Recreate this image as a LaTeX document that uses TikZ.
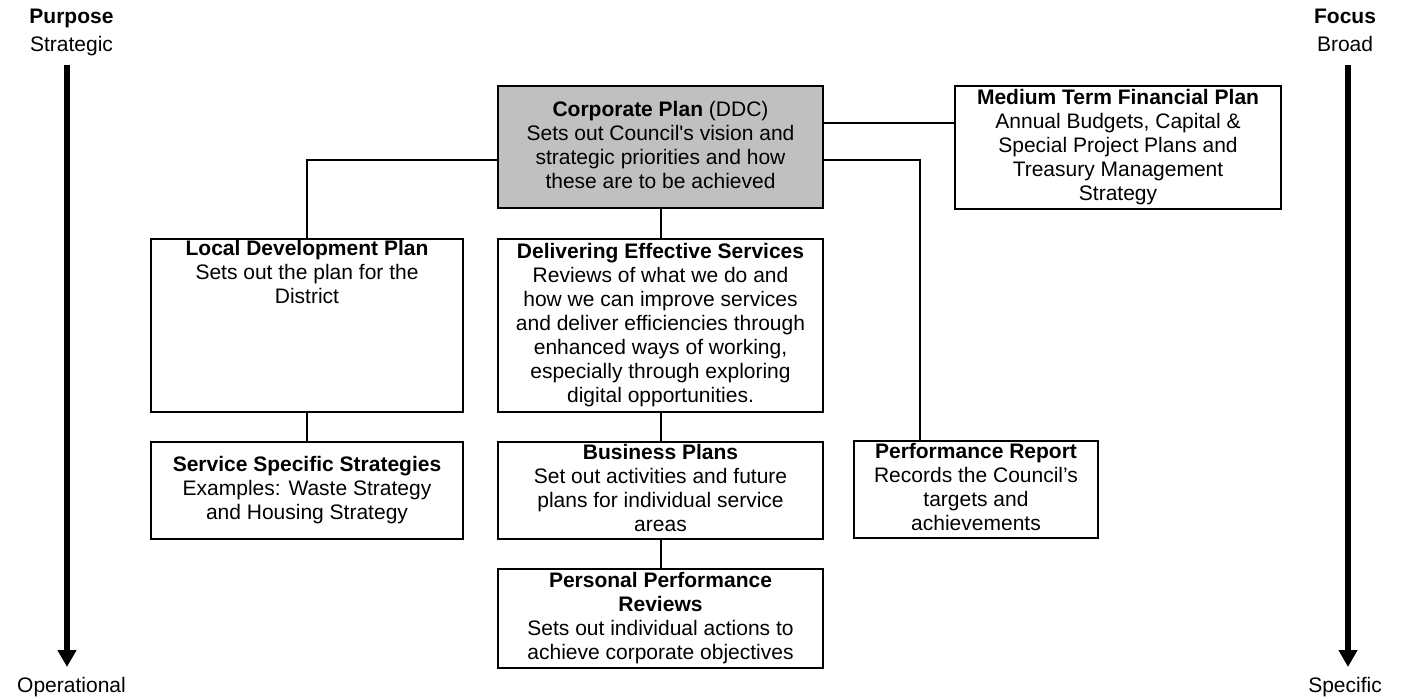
\documentclass[tikz,border=0pt]{standalone}
\usepackage{fontspec}
\setmainfont{Liberation Sans}
\usetikzlibrary{arrows.meta}
\definecolor{cpgray}{RGB}{192,192,192}
\newcommand{\mytopstrut}{\rule{0pt}{19pt}}
\newcommand{\mybotstrut}{\rule[-5pt]{0pt}{5pt}}
\begin{document}
\begin{tikzpicture}[x=1pt,y=-1pt,
  boxst/.style={draw=black, line width=2pt, fill=white, inner sep=0pt, align=center,
    font=\fontsize{21}{24}\selectfont, execute at begin node=\mytopstrut, execute at end node=\mybotstrut},
  txtst/.style={inner sep=0pt, align=center,
    font=\fontsize{21}{24}\selectfont, execute at begin node=\mytopstrut, execute at end node=\mybotstrut},
  lblst/.style={inner sep=0pt, font=\fontsize{21}{24}\selectfont},
  linkst/.style={draw=black, line width=2pt},
  bigarrow/.style={draw=black, line width=6pt, -{Triangle[width=18pt,length=17pt]}}]
\useasboundingbox (0,0) rectangle (1404,698);

% side labels and arrows
\node[lblst, anchor=base] (purpose) at (71.5,24) {\textbf{Purpose}};
\node[lblst, anchor=base] (strategic) at (71.5,52) {Strategic};
\node[lblst, anchor=base] (operational) at (71.5,692) {Operational};
\node[lblst, anchor=base] (focus) at (1345,24) {\textbf{Focus}};
\node[lblst, anchor=base] (broad) at (1345,52) {Broad};
\node[lblst, anchor=base] (specific) at (1345,692) {Specific};
\coordinate (la-s) at (67,65);
\coordinate (la-e) at (67,667);
\coordinate (ra-s) at (1348,65);
\coordinate (ra-e) at (1348,667);
\draw[bigarrow] (la-s) -- (la-e);
\draw[bigarrow] (ra-s) -- (ra-e);

% boxes
\node[boxst, fill=cpgray, minimum width=325pt, minimum height=122pt] (cp) at (660.5,147)
  {\textbf{Corporate Plan} (DDC)\\Sets out Council\textquotesingle s vision and\\strategic priorities and how\\these are to be achieved};
\node[boxst, minimum width=326pt, minimum height=123pt] (mtfp) at (1118,147.5)
  {\textbf{Medium Term Financial Plan}\\Annual Budgets, Capital \&\\Special Project Plans and\\Treasury Management\\Strategy};
\node[boxst, minimum width=312pt, minimum height=173pt] (ldp) at (307,325.5) {};
\node[txtst, anchor=north] (ldp-t) at ([yshift=-2.5pt]ldp.north)
  {\textbf{Local Development Plan}\\Sets out the plan for the\\District};
\node[boxst, minimum width=325pt, minimum height=173pt] (des) at (660.5,325.5)
  {\textbf{Delivering Effective Services}\\Reviews of what we do and\\how we can improve services\\and deliver efficiencies through\\enhanced ways of working,\\especially through exploring\\digital opportunities.};
\node[boxst, minimum width=312pt, minimum height=97pt] (sss) at (307,490.5)
  {\textbf{Service Specific Strategies}\\Examples: Waste Strategy\\and Housing Strategy};
\node[boxst, minimum width=325pt, minimum height=97pt] (bp) at (660.5,490.5)
  {\textbf{Business Plans}\\Set out activities and future\\plans for individual service\\areas};
\node[boxst, minimum width=244pt, minimum height=97pt] (pr) at (976,489.5)
  {\textbf{Performance Report}\\Records the Council’s\\targets and\\achievements};
\node[boxst, minimum width=325pt, minimum height=99pt] (ppr) at (660.5,618.5)
  {\textbf{Personal Performance}\\\textbf{Reviews}\\Sets out individual actions to\\achieve corporate objectives};

% connectors
\draw[linkst] (cp.south) -- (des.north);
\draw[linkst] (des.south) -- (bp.north);
\draw[linkst] (bp.south) -- (ppr.north);
\draw[linkst] (ldp.south) -- (sss.north);
\draw[linkst] ([yshift=-13pt]cp.west) -| (ldp.north);
\draw[linkst] ([yshift=24pt]cp.east) -- ([yshift=24pt]cp.east -| mtfp.west);
\draw[linkst] ([yshift=-13pt]cp.east) -| ([xshift=-56pt]pr.north);
\end{tikzpicture}
\end{document}
